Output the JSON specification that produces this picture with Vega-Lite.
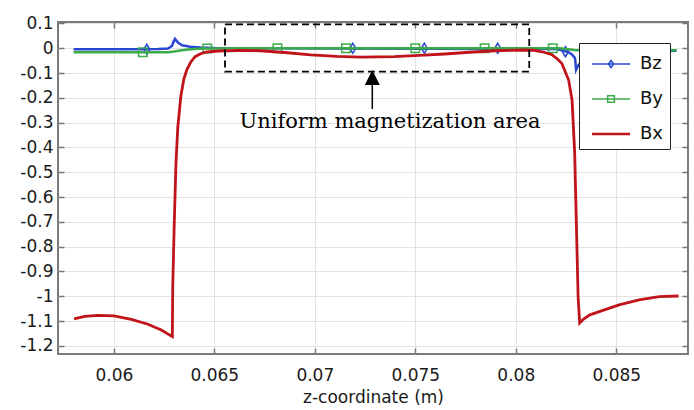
{
  "$schema": "https://vega.github.io/schema/vega-lite/v6.json",
  "width": 630,
  "height": 332,
  "autosize": {"type": "none"},
  "padding": {"left": 58, "top": 22, "right": 6, "bottom": 56},
  "background": "white",
  "config": {
    "view": {"stroke": "#7a7a7a", "strokeWidth": 2},
    "font": "DejaVu Sans",
    "axis": {
      "labelFont": "DejaVu Sans", "labelFontSize": 17, "labelColor": "#1a1a1a",
      "titleFont": "DejaVu Sans", "titleFontSize": 17, "titleFontWeight": "normal", "titleColor": "#1a1a1a",
      "gridColor": "#e2e2e2", "gridWidth": 1, "tickColor": "#777777", "tickWidth": 1.5, "tickSize": -6,
      "domain": false, "labelFlush": false
    }
  },
  "datasets": {
    "curves": [
      {"series": "Bz", "z": 0.058, "b": -0.004},
      {"series": "Bz", "z": 0.0605, "b": -0.004},
      {"series": "Bz", "z": 0.0622, "b": -0.003},
      {"series": "Bz", "z": 0.0627, "b": -0.001},
      {"series": "Bz", "z": 0.0629, "b": 0.01},
      {"series": "Bz", "z": 0.06296, "b": 0.025},
      {"series": "Bz", "z": 0.06304, "b": 0.038},
      {"series": "Bz", "z": 0.0631, "b": 0.032},
      {"series": "Bz", "z": 0.0632, "b": 0.022},
      {"series": "Bz", "z": 0.0634, "b": 0.012},
      {"series": "Bz", "z": 0.0638, "b": 0.006},
      {"series": "Bz", "z": 0.0643, "b": 0.003},
      {"series": "Bz", "z": 0.065, "b": 0.001},
      {"series": "Bz", "z": 0.067, "b": 0.0},
      {"series": "Bz", "z": 0.082, "b": -0.003},
      {"series": "Bz", "z": 0.0823, "b": -0.008},
      {"series": "Bz", "z": 0.0826, "b": -0.015},
      {"series": "Bz", "z": 0.0828, "b": -0.025},
      {"series": "Bz", "z": 0.08295, "b": -0.04},
      {"series": "Bz", "z": 0.083, "b": -0.087},
      {"series": "Bz", "z": 0.0831, "b": -0.07},
      {"series": "Bz", "z": 0.0834, "b": -0.04},
      {"series": "Bz", "z": 0.084, "b": -0.02},
      {"series": "Bz", "z": 0.086, "b": -0.012},
      {"series": "Bz", "z": 0.088, "b": -0.01},
      {"series": "By", "z": 0.058, "b": -0.016},
      {"series": "By", "z": 0.0627, "b": -0.016},
      {"series": "By", "z": 0.063, "b": -0.013},
      {"series": "By", "z": 0.0633, "b": -0.009},
      {"series": "By", "z": 0.0637, "b": -0.005},
      {"series": "By", "z": 0.0642, "b": -0.002},
      {"series": "By", "z": 0.0648, "b": -0.001},
      {"series": "By", "z": 0.066, "b": 0.0},
      {"series": "By", "z": 0.0822, "b": 0.0},
      {"series": "By", "z": 0.0826, "b": -0.004},
      {"series": "By", "z": 0.083, "b": -0.008},
      {"series": "By", "z": 0.088, "b": -0.008},
      {"series": "Bx", "z": 0.05802, "b": -1.0915},
      {"series": "Bx", "z": 0.05855, "b": -1.081},
      {"series": "Bx", "z": 0.05921, "b": -1.077},
      {"series": "Bx", "z": 0.06, "b": -1.079},
      {"series": "Bx", "z": 0.06087, "b": -1.093},
      {"series": "Bx", "z": 0.0617, "b": -1.113},
      {"series": "Bx", "z": 0.06236, "b": -1.136},
      {"series": "Bx", "z": 0.06291, "b": -1.163},
      {"series": "Bx", "z": 0.06293, "b": -0.961},
      {"series": "Bx", "z": 0.06301, "b": -0.692},
      {"series": "Bx", "z": 0.06309, "b": -0.464},
      {"series": "Bx", "z": 0.06318, "b": -0.32},
      {"series": "Bx", "z": 0.06333, "b": -0.195},
      {"series": "Bx", "z": 0.06348, "b": -0.125},
      {"series": "Bx", "z": 0.06363, "b": -0.087},
      {"series": "Bx", "z": 0.06383, "b": -0.055},
      {"series": "Bx", "z": 0.06404, "b": -0.034},
      {"series": "Bx", "z": 0.06432, "b": -0.022},
      {"series": "Bx", "z": 0.06462, "b": -0.015},
      {"series": "Bx", "z": 0.0652, "b": -0.011},
      {"series": "Bx", "z": 0.0662, "b": -0.009},
      {"series": "Bx", "z": 0.0673, "b": -0.01},
      {"series": "Bx", "z": 0.0685, "b": -0.017},
      {"series": "Bx", "z": 0.0698, "b": -0.027},
      {"series": "Bx", "z": 0.0711, "b": -0.033},
      {"series": "Bx", "z": 0.0723, "b": -0.036},
      {"series": "Bx", "z": 0.07395, "b": -0.034},
      {"series": "Bx", "z": 0.0752, "b": -0.029},
      {"series": "Bx", "z": 0.07645, "b": -0.023},
      {"series": "Bx", "z": 0.0777, "b": -0.016},
      {"series": "Bx", "z": 0.07895, "b": -0.01},
      {"series": "Bx", "z": 0.0803, "b": -0.007},
      {"series": "Bx", "z": 0.0809, "b": -0.008},
      {"series": "Bx", "z": 0.0814, "b": -0.016},
      {"series": "Bx", "z": 0.0818, "b": -0.026},
      {"series": "Bx", "z": 0.0821, "b": -0.045},
      {"series": "Bx", "z": 0.0823, "b": -0.062},
      {"series": "Bx", "z": 0.08263, "b": -0.128},
      {"series": "Bx", "z": 0.0828, "b": -0.208},
      {"series": "Bx", "z": 0.08293, "b": -0.42},
      {"series": "Bx", "z": 0.08305, "b": -0.826},
      {"series": "Bx", "z": 0.0831, "b": -1.0},
      {"series": "Bx", "z": 0.08318, "b": -1.108},
      {"series": "Bx", "z": 0.08336, "b": -1.093},
      {"series": "Bx", "z": 0.08369, "b": -1.075},
      {"series": "Bx", "z": 0.0843, "b": -1.058},
      {"series": "Bx", "z": 0.08514, "b": -1.035},
      {"series": "Bx", "z": 0.08613, "b": -1.015},
      {"series": "Bx", "z": 0.08713, "b": -1.002},
      {"series": "Bx", "z": 0.0881, "b": -0.999}
    ],
    "markers": [
      {"series": "Bz", "z": 0.06164, "b": -0.004},
      {"series": "Bz", "z": 0.07189, "b": 0.0},
      {"series": "Bz", "z": 0.07545, "b": 0.0},
      {"series": "Bz", "z": 0.0791, "b": 0.0},
      {"series": "Bz", "z": 0.08247, "b": -0.014},
      {"series": "By", "z": 0.06144, "b": -0.016},
      {"series": "By", "z": 0.06465, "b": -0.001},
      {"series": "By", "z": 0.06814, "b": 0.0},
      {"series": "By", "z": 0.07155, "b": 0.0},
      {"series": "By", "z": 0.075, "b": 0.0},
      {"series": "By", "z": 0.07845, "b": 0.0},
      {"series": "By", "z": 0.08184, "b": 0.0}
    ]
  },
  "layer": [
    {
      "data": {"name": "curves"},
      "transform": [{"filter": "datum.series == 'Bz'"}],
      "mark": {"type": "line", "strokeWidth": 2.5, "color": "#2a47d4"},
      "encoding": {
        "x": {"field": "z", "type": "quantitative", "scale": {"domain": [0.05722, 0.08857], "nice": false, "zero": false},
          "axis": {"orient": "bottom", "values": [0.06, 0.065, 0.07, 0.075, 0.08, 0.085], "labelExpr": "toString(datum.value)", "labelPadding": 19, "grid": true, "title": "z-coordinate (m)", "titleBaseline": "alphabetic", "titleY": 48}},
        "y": {"field": "b", "type": "quantitative", "scale": {"domain": [-1.233, 0.106], "nice": false, "zero": false},
          "axis": {"orient": "left", "values": [0.1, 0, -0.1, -0.2, -0.3, -0.4, -0.5, -0.6, -0.7, -0.8, -0.9, -1, -1.1, -1.2], "labelExpr": "toString(round(datum.value*10)/10)", "labelPadding": 11, "grid": true, "title": null}}
      }
    },
    {
      "data": {"name": "markers"},
      "transform": [{"filter": "datum.series == 'Bz'"}],
      "mark": {"type": "point", "filled": false, "strokeWidth": 1.5, "size": 100, "shape": "M0,-1L0.6,0L0,1L-0.6,0Z", "opacity": 1, "color": "#2a47d4"},
      "encoding": {
        "x": {"field": "z", "type": "quantitative", "axis": null},
        "y": {"field": "b", "type": "quantitative", "axis": null}
      }
    },
    {
      "data": {"name": "curves"},
      "transform": [{"filter": "datum.series == 'By'"}],
      "mark": {"type": "line", "strokeWidth": 2.5, "color": "#3bab4a"},
      "encoding": {
        "x": {"field": "z", "type": "quantitative", "axis": null},
        "y": {"field": "b", "type": "quantitative", "axis": null}
      }
    },
    {
      "data": {"name": "markers"},
      "transform": [{"filter": "datum.series == 'By'"}],
      "mark": {"type": "point", "filled": false, "strokeWidth": 1.5, "size": 72, "shape": "square", "opacity": 1, "color": "#3bab4a"},
      "encoding": {
        "x": {"field": "z", "type": "quantitative", "axis": null},
        "y": {"field": "b", "type": "quantitative", "axis": null}
      }
    },
    {
      "data": {"name": "curves"},
      "transform": [{"filter": "datum.series == 'Bx'"}],
      "mark": {"type": "line", "strokeWidth": 2.8, "color": "#c0141a"},
      "encoding": {
        "x": {"field": "z", "type": "quantitative", "axis": null},
        "y": {"field": "b", "type": "quantitative", "axis": null}
      }
    },
    {
      "data": {"values": [{"z1": 0.06553, "z2": 0.08067, "b1": -0.0944, "b2": 0.0968}]},
      "mark": {"type": "rect", "filled": false, "fillOpacity": 0, "stroke": "black", "strokeWidth": 1.8, "strokeDash": [7, 4]},
      "encoding": {
        "x": {"field": "z1", "type": "quantitative",
          "axis": {"orient": "top", "values": [0.06, 0.065, 0.07, 0.075, 0.08, 0.085], "labels": false, "grid": false, "title": null}},
        "x2": {"field": "z2"},
        "y": {"field": "b1", "type": "quantitative",
          "axis": {"orient": "right", "values": [0.1, 0, -0.1, -0.2, -0.3, -0.4, -0.5, -0.6, -0.7, -0.8, -0.9, -1, -1.1, -1.2], "labels": false, "grid": false, "title": null}},
        "y2": {"field": "b2"}
      }
    },
    {
      "data": {"values": [{"z": 0.07286, "b1": -0.148, "b2": -0.245}]},
      "mark": {"type": "rule", "color": "black", "strokeWidth": 1.5},
      "encoding": {
        "x": {"field": "z", "type": "quantitative", "axis": null},
        "y": {"field": "b1", "type": "quantitative", "axis": null},
        "y2": {"field": "b2"}
      }
    },
    {
      "data": {"values": [{"z": 0.07286, "b": -0.118}]},
      "mark": {"type": "point", "filled": true, "shape": "M0,-1L1,1L-1,1Z", "size": 225, "color": "black", "opacity": 1},
      "encoding": {
        "x": {"field": "z", "type": "quantitative", "axis": null},
        "y": {"field": "b", "type": "quantitative", "axis": null}
      }
    },
    {
      "data": {"values": [{"z": 0.07374, "b": -0.32, "label": "Uniform magnetization area"}]},
      "mark": {"type": "text", "font": "DejaVu Serif", "fontSize": 21, "align": "center", "baseline": "alphabetic", "color": "black"},
      "encoding": {
        "x": {"field": "z", "type": "quantitative", "axis": null},
        "y": {"field": "b", "type": "quantitative", "axis": null},
        "text": {"field": "label"}
      }
    },
    {
      "data": {"name": "curves"},
      "transform": [{"filter": "false"}],
      "mark": {"type": "point", "filled": false, "strokeWidth": 1.5, "size": 784, "opacity": 1},
      "encoding": {
        "x": {"field": "z", "type": "quantitative", "axis": null},
        "y": {"field": "b", "type": "quantitative", "axis": null},
        "color": {"field": "series", "type": "nominal",
          "scale": {"domain": ["Bz", "By", "Bx"], "range": ["#2a47d4", "#3bab4a", "#c0141a"]},
          "legend": {"orient": "none", "legendX": 521, "legendY": 21, "title": null, "labelFont": "DejaVu Sans", "labelFontSize": 18, "labelColor": "#111111", "labelOffset": 25, "labelExpr": "datum.label + ' '", "symbolSize": 784, "symbolStrokeWidth": 1.5, "rowPadding": 11, "padding": 6, "strokeColor": "#222222", "fillColor": "white"}},
        "shape": {"field": "series", "type": "nominal",
          "scale": {"domain": ["Bz", "By", "Bx"], "range": [
            "M-0.571,0L2.143,0M0.786,-0.26L0.966,0L0.786,0.26L0.606,0Z",
            "M-0.571,0L2.143,0M0.546,-0.24L1.026,-0.24L1.026,0.24L0.546,0.24Z",
            "M-0.571,-0.04L2.143,-0.04M-0.571,0.04L2.143,0.04"
          ]},
          "legend": {"orient": "none", "legendX": 521, "legendY": 21, "title": null, "labelFont": "DejaVu Sans", "labelFontSize": 18, "labelColor": "#111111", "labelOffset": 25, "labelExpr": "datum.label + ' '", "symbolSize": 784, "symbolStrokeWidth": 1.5, "rowPadding": 11, "padding": 6, "strokeColor": "#222222", "fillColor": "white"}}
      }
    }
  ],
  "resolve": {"axis": {"x": "independent", "y": "independent"}}
}
